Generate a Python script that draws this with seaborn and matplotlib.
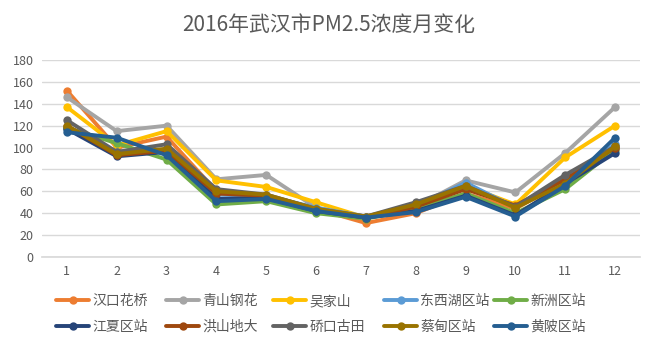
import matplotlib
matplotlib.use("Agg")
import matplotlib.pyplot as plt
import seaborn as sns
import pandas as pd

months = list(range(1, 13))
series_names = ["汉口花桥", "青山钢花", "吴家山", "东西湖区站", "新洲区站",
                "江夏区站", "洪山地大", "硚口古田", "蔡甸区站", "黄陂区站"]
hankou = [152, 100, 110, 60, 56, 44, 31, 40, 58, 44, 70, 100]
qingshan = [146, 115, 120, 71, 75, 45, 37, 46, 70, 59, 95, 137]
wujiashan = [137, 102, 115, 70, 64, 50, 36, 45, 65, 48, 91, 120]
dongxihu = [118, 96, 98, 57, 56, 45, 37, 46, 68, 45, 70, 103]
xinzhou = [118, 104, 89, 48, 51, 40, 35, 44, 58, 40, 62, 98]
jiangxia = [117, 92, 96, 53, 54, 42, 36, 42, 56, 38, 67, 95]
hongshan = [120, 93, 97, 58, 56, 43, 36, 46, 62, 47, 71, 100]
qiaokou = [125, 96, 103, 62, 57, 44, 37, 50, 65, 46, 75, 101]
caidian = [120, 94, 99, 60, 57, 44, 37, 48, 65, 45, 67, 101]
huangpi = [114, 109, 93, 51, 53, 42, 36, 41, 55, 37, 65, 109]
y_ticks = [0, 20, 40, 60, 80, 100, 120, 140, 160, 180]

colors = ["#ED7D31", "#A5A5A5", "#FFC000", "#5B9BD5", "#70AD47",
          "#264478", "#9E480E", "#636363", "#997300", "#255E91"]

all_vals = [hankou, qingshan, wujiashan, dongxihu, xinzhou,
            jiangxia, hongshan, qiaokou, caidian, huangpi]
rows = []
for name, vals in zip(series_names, all_vals):
    for m, v in zip(months, vals):
        rows.append({"月": m, "站点": name, "PM2.5": v})
df = pd.DataFrame(rows)

sns.set_theme(style="white")
plt.rcParams['font.family'] = ['Noto Sans CJK SC', 'DejaVu Sans']

fig = plt.figure(figsize=(6.57, 3.46), dpi=100)
ax = fig.add_axes([42/657, 1-257/346, (640-42)/657, (257-60)/346])

sns.lineplot(data=df, x="月", y="PM2.5", hue="站点", hue_order=series_names,
             palette=colors, marker="o", markersize=6, linewidth=2.8,
             markeredgewidth=0, ax=ax, legend=True)

ax.set_xlim(0.5, 12.5)
ax.set_ylim(0, 180)
ax.set_yticks(y_ticks)
ax.set_xticks(months)
ax.set_xticklabels([str(m) for m in months])
ax.grid(axis="y", color="#D9D9D9", linewidth=1)
ax.set_axisbelow(True)
for s in ["top", "right", "left"]:
    ax.spines[s].set_visible(False)
ax.spines["bottom"].set_color("#D9D9D9")
ax.tick_params(axis="both", length=0, labelsize=9, colors="#595959", pad=6)
ax.set_xlabel("")
ax.set_ylabel("")

handles, labels = ax.get_legend_handles_labels()
ax.get_legend().remove()
col_x = [56, 166, 273, 384, 494]
for c, x0 in enumerate(col_x):
    idx = [c, c + 5]
    fig.legend([handles[i] for i in idx], [labels[i] for i in idx],
               ncol=1, loc="upper left",
               bbox_to_anchor=(x0/657, 1-294/346), frameon=False,
               fontsize=10, labelcolor="#595959", handlelength=2.4,
               handletextpad=0.2, borderaxespad=0, borderpad=0,
               labelspacing=0.85)

fig.text(0.5, 1-25/346, "2016年武汉市PM2.5浓度月变化", ha="center", va="center",
         fontsize=15, color="#595959")

fig.savefig("out.png", dpi=100)
